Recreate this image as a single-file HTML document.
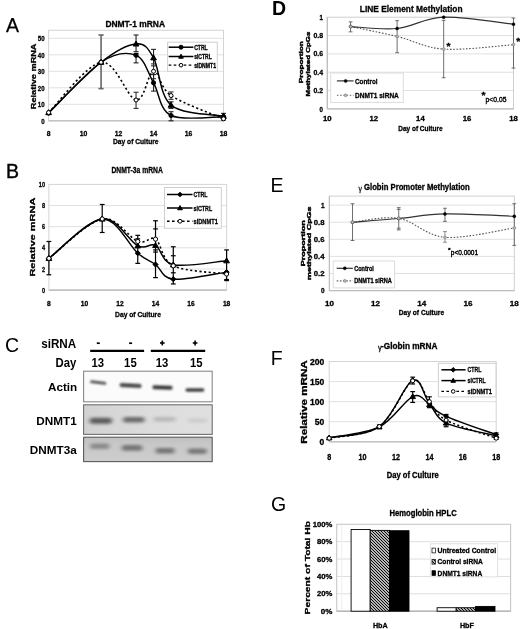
<!DOCTYPE html>
<html><head><meta charset="utf-8"><title>Figure</title>
<style>
html,body{margin:0;padding:0;background:#fff;}
body{width:520px;height:629px;overflow:hidden;}
svg{display:block;font-family:"Liberation Sans",sans-serif;filter:blur(0.3px);}
</style></head>
<body>
<svg width="520" height="629" viewBox="0 0 520 629">
<rect width="520" height="629" fill="#fff"/>
<text x="5.9" y="31.6" font-size="19.5" font-weight="normal" text-anchor="start" fill="#000" stroke="#000" stroke-width="0.25">A</text>
<text x="105.4" y="27.3" font-size="9.3" font-weight="bold" text-anchor="start" fill="#000" textLength="59.6" lengthAdjust="spacingAndGlyphs" stroke="#000" stroke-width="0.3">DNMT-1 mRNA</text>
<line x1="48.6" y1="104.3" x2="223.5" y2="104.3" stroke="#e0e0e0" stroke-width="1"/>
<line x1="48.6" y1="87.8" x2="223.5" y2="87.8" stroke="#e0e0e0" stroke-width="1"/>
<line x1="48.6" y1="71.3" x2="223.5" y2="71.3" stroke="#e0e0e0" stroke-width="1"/>
<line x1="48.6" y1="54.8" x2="223.5" y2="54.8" stroke="#e0e0e0" stroke-width="1"/>
<line x1="48.6" y1="38.3" x2="223.5" y2="38.3" stroke="#e0e0e0" stroke-width="1"/>
<rect x="48.6" y="30.3" width="174.9" height="90.5" fill="none" stroke="#d4d4d4" stroke-width="1"/>
<line x1="48.6" y1="120.8" x2="223.5" y2="120.8" stroke="#c4c4c4" stroke-width="1.6"/>
<text x="44.6" y="123.5" font-size="7.6" font-weight="bold" text-anchor="end" fill="#000" textLength="3.4" lengthAdjust="spacingAndGlyphs" stroke="#000" stroke-width="0.3">0</text>
<text x="44.6" y="107" font-size="7.6" font-weight="bold" text-anchor="end" fill="#000" textLength="6.8" lengthAdjust="spacingAndGlyphs" stroke="#000" stroke-width="0.3">10</text>
<text x="44.6" y="90.5" font-size="7.6" font-weight="bold" text-anchor="end" fill="#000" textLength="6.8" lengthAdjust="spacingAndGlyphs" stroke="#000" stroke-width="0.3">20</text>
<text x="44.6" y="74" font-size="7.6" font-weight="bold" text-anchor="end" fill="#000" textLength="6.8" lengthAdjust="spacingAndGlyphs" stroke="#000" stroke-width="0.3">30</text>
<text x="44.6" y="57.5" font-size="7.6" font-weight="bold" text-anchor="end" fill="#000" textLength="6.8" lengthAdjust="spacingAndGlyphs" stroke="#000" stroke-width="0.3">40</text>
<text x="44.6" y="41" font-size="7.6" font-weight="bold" text-anchor="end" fill="#000" textLength="6.8" lengthAdjust="spacingAndGlyphs" stroke="#000" stroke-width="0.3">50</text>
<text x="48.6" y="136.2" font-size="7.6" font-weight="bold" text-anchor="middle" fill="#000" textLength="3.8" lengthAdjust="spacingAndGlyphs" stroke="#000" stroke-width="0.3">8</text>
<text x="83.58" y="136.2" font-size="7.6" font-weight="bold" text-anchor="middle" fill="#000" textLength="7.6" lengthAdjust="spacingAndGlyphs" stroke="#000" stroke-width="0.3">10</text>
<text x="118.56" y="136.2" font-size="7.6" font-weight="bold" text-anchor="middle" fill="#000" textLength="7.6" lengthAdjust="spacingAndGlyphs" stroke="#000" stroke-width="0.3">12</text>
<text x="153.54" y="136.2" font-size="7.6" font-weight="bold" text-anchor="middle" fill="#000" textLength="7.6" lengthAdjust="spacingAndGlyphs" stroke="#000" stroke-width="0.3">14</text>
<text x="188.52" y="136.2" font-size="7.6" font-weight="bold" text-anchor="middle" fill="#000" textLength="7.6" lengthAdjust="spacingAndGlyphs" stroke="#000" stroke-width="0.3">16</text>
<text x="223.5" y="136.2" font-size="7.6" font-weight="bold" text-anchor="middle" fill="#000" textLength="7.6" lengthAdjust="spacingAndGlyphs" stroke="#000" stroke-width="0.3">18</text>
<text x="113" y="144.2" font-size="7.4" font-weight="bold" text-anchor="start" fill="#000" textLength="45.5" lengthAdjust="spacingAndGlyphs" stroke="#000" stroke-width="0.3">Day of Culture</text>
<text x="35.9" y="76.35" font-size="7.8" font-weight="bold" text-anchor="middle" fill="#000" textLength="65.7" lengthAdjust="spacingAndGlyphs" transform="rotate(-90 35.9 76.35)" stroke="#000" stroke-width="0.3">Relative mRNA</text>
<line x1="101.07" y1="35" x2="101.07" y2="88.62" stroke="#666" stroke-width="1.6"/>
<line x1="98.47" y1="35" x2="103.67" y2="35" stroke="#666" stroke-width="1.6"/>
<line x1="98.47" y1="88.62" x2="103.67" y2="88.62" stroke="#666" stroke-width="1.6"/>
<line x1="136.05" y1="35" x2="136.05" y2="51.67" stroke="#222" stroke-width="1.1"/>
<line x1="133.55" y1="35" x2="138.55" y2="35" stroke="#222" stroke-width="1.1"/>
<line x1="133.55" y1="51.67" x2="138.55" y2="51.67" stroke="#222" stroke-width="1.1"/>
<line x1="136.05" y1="53.48" x2="136.05" y2="62.88" stroke="#222" stroke-width="1.1"/>
<line x1="133.55" y1="53.48" x2="138.55" y2="53.48" stroke="#222" stroke-width="1.1"/>
<line x1="133.55" y1="62.88" x2="138.55" y2="62.88" stroke="#222" stroke-width="1.1"/>
<line x1="136.05" y1="92.25" x2="136.05" y2="108.42" stroke="#333" stroke-width="1.1"/>
<line x1="133.55" y1="92.25" x2="138.55" y2="92.25" stroke="#333" stroke-width="1.1"/>
<line x1="133.55" y1="108.42" x2="138.55" y2="108.42" stroke="#333" stroke-width="1.1"/>
<line x1="153.54" y1="49.36" x2="153.54" y2="65.86" stroke="#222" stroke-width="1.1"/>
<line x1="151.04" y1="49.36" x2="156.04" y2="49.36" stroke="#222" stroke-width="1.1"/>
<line x1="151.04" y1="65.86" x2="156.04" y2="65.86" stroke="#222" stroke-width="1.1"/>
<line x1="153.54" y1="63.88" x2="153.54" y2="78.72" stroke="#333" stroke-width="1.1"/>
<line x1="151.04" y1="63.88" x2="156.04" y2="63.88" stroke="#333" stroke-width="1.1"/>
<line x1="151.04" y1="78.72" x2="156.04" y2="78.72" stroke="#333" stroke-width="1.1"/>
<line x1="153.54" y1="74.6" x2="153.54" y2="91.1" stroke="#222" stroke-width="1.1"/>
<line x1="151.04" y1="74.6" x2="156.04" y2="74.6" stroke="#222" stroke-width="1.1"/>
<line x1="151.04" y1="91.1" x2="156.04" y2="91.1" stroke="#222" stroke-width="1.1"/>
<line x1="171.03" y1="91.92" x2="171.03" y2="99.35" stroke="#333" stroke-width="1.1"/>
<line x1="168.53" y1="91.92" x2="173.53" y2="91.92" stroke="#333" stroke-width="1.1"/>
<line x1="168.53" y1="99.35" x2="173.53" y2="99.35" stroke="#333" stroke-width="1.1"/>
<line x1="171.03" y1="101.83" x2="171.03" y2="108.42" stroke="#222" stroke-width="1.1"/>
<line x1="168.53" y1="101.83" x2="173.53" y2="101.83" stroke="#222" stroke-width="1.1"/>
<line x1="168.53" y1="108.42" x2="173.53" y2="108.42" stroke="#222" stroke-width="1.1"/>
<line x1="171.03" y1="111.72" x2="171.03" y2="120.8" stroke="#222" stroke-width="1.1"/>
<line x1="168.53" y1="111.72" x2="173.53" y2="111.72" stroke="#222" stroke-width="1.1"/>
<line x1="168.53" y1="120.8" x2="173.53" y2="120.8" stroke="#222" stroke-width="1.1"/>
<line x1="223.5" y1="113.38" x2="223.5" y2="119.97" stroke="#222" stroke-width="1.1"/>
<line x1="221" y1="113.38" x2="226" y2="113.38" stroke="#222" stroke-width="1.1"/>
<line x1="221" y1="119.97" x2="226" y2="119.97" stroke="#222" stroke-width="1.1"/>
<path d="M48.6,112.55 C57.34,104.16 86.5,64.31 101.07,62.23 C115.65,60.13 127.31,98.5 136.05,100.01 C144.8,101.52 147.71,72.04 153.54,71.3 C159.37,70.56 159.37,87.63 171.03,95.55 C182.69,103.47 214.75,114.94 223.5,118.82" fill="none" stroke="#000" stroke-width="1.6" stroke-dasharray="2.1,2.5"/>
<path d="M48.6,113.05 C57.34,104.58 86.5,71.85 101.07,62.23 C115.65,52.6 127.31,51.86 136.05,55.3 C144.8,58.73 147.71,72.81 153.54,82.85 C159.37,92.89 159.37,109.88 171.03,115.52 C182.69,121.16 214.75,116.48 223.5,116.67" fill="none" stroke="#000" stroke-width="1.45"/>
<path d="M48.6,112.55 C57.34,104.16 86.5,73.67 101.07,62.23 C115.65,50.79 127.31,44.65 136.05,43.91 C144.8,43.17 147.71,47.57 153.54,57.77 C159.37,67.97 159.37,95.39 171.03,105.12 C182.69,114.86 214.75,114.34 223.5,116.18" fill="none" stroke="#000" stroke-width="1.45"/>
<circle cx="48.6" cy="113.05" r="2.1" fill="#000" stroke="#000" stroke-width="1"/>
<circle cx="101.07" cy="62.23" r="2.1" fill="#000" stroke="#000" stroke-width="1"/>
<circle cx="136.05" cy="55.3" r="2.1" fill="#000" stroke="#000" stroke-width="1"/>
<circle cx="153.54" cy="82.85" r="2.1" fill="#000" stroke="#000" stroke-width="1"/>
<circle cx="171.03" cy="115.52" r="2.1" fill="#000" stroke="#000" stroke-width="1"/>
<circle cx="223.5" cy="116.67" r="2.1" fill="#000" stroke="#000" stroke-width="1"/>
<path d="M48.6,109.67 L51.48,114.67 L45.73,114.67Z" fill="#000" stroke="#000" stroke-width="1"/>
<path d="M101.07,59.35 L103.95,64.35 L98.2,64.35Z" fill="#000" stroke="#000" stroke-width="1"/>
<path d="M136.05,41.03 L138.93,46.03 L133.18,46.03Z" fill="#000" stroke="#000" stroke-width="1"/>
<path d="M153.54,54.89 L156.42,59.89 L150.67,59.89Z" fill="#000" stroke="#000" stroke-width="1"/>
<path d="M171.03,102.25 L173.91,107.25 L168.16,107.25Z" fill="#000" stroke="#000" stroke-width="1"/>
<path d="M223.5,113.3 L226.38,118.3 L220.62,118.3Z" fill="#000" stroke="#000" stroke-width="1"/>
<circle cx="48.6" cy="112.55" r="2" fill="#fff" stroke="#000" stroke-width="1"/>
<circle cx="101.07" cy="62.23" r="2" fill="#fff" stroke="#000" stroke-width="1"/>
<circle cx="136.05" cy="100.01" r="2" fill="#fff" stroke="#000" stroke-width="1"/>
<circle cx="153.54" cy="71.3" r="2" fill="#fff" stroke="#000" stroke-width="1"/>
<circle cx="171.03" cy="95.55" r="2" fill="#fff" stroke="#000" stroke-width="1"/>
<circle cx="223.5" cy="118.82" r="2" fill="#fff" stroke="#000" stroke-width="1"/>
<rect x="167.6" y="42.2" width="49.7" height="29.1" fill="#fff" stroke="#cfcfcf" stroke-width="1"/>
<line x1="168.7" y1="47.2" x2="193.4" y2="47.2" stroke="#000" stroke-width="1.5"/>
<circle cx="181" cy="47.2" r="2" fill="#000" stroke="#000" stroke-width="1"/>
<text x="194.2" y="49.5" font-size="6.4" font-weight="bold" text-anchor="start" fill="#000" textLength="13.5" lengthAdjust="spacingAndGlyphs" stroke="#000" stroke-width="0.3">CTRL</text>
<line x1="168.7" y1="56.5" x2="193.4" y2="56.5" stroke="#000" stroke-width="1.5"/>
<path d="M181,54.2 L183.3,58.2 L178.7,58.2Z" fill="#000" stroke="#000" stroke-width="1"/>
<text x="194.2" y="58.8" font-size="6.4" font-weight="bold" text-anchor="start" fill="#000" textLength="17.5" lengthAdjust="spacingAndGlyphs" stroke="#000" stroke-width="0.3">siCTRL</text>
<line x1="168.7" y1="65.2" x2="193.4" y2="65.2" stroke="#000" stroke-width="1.3" stroke-dasharray="2.6,2.4"/>
<circle cx="181" cy="65.2" r="1.8" fill="#fff" stroke="#000" stroke-width="1"/>
<text x="194.2" y="67.5" font-size="6.4" font-weight="bold" text-anchor="start" fill="#000" textLength="21.8" lengthAdjust="spacingAndGlyphs" stroke="#000" stroke-width="0.3">siDNMT1</text>
<text x="5.9" y="178.2" font-size="19.5" font-weight="normal" text-anchor="start" fill="#000" stroke="#000" stroke-width="0.4">B</text>
<text x="111.5" y="172.6" font-size="8.9" font-weight="bold" text-anchor="start" fill="#000" textLength="51.3" lengthAdjust="spacingAndGlyphs" stroke="#000" stroke-width="0.3">DNMT-3a mRNA</text>
<line x1="48.9" y1="268.96" x2="226.6" y2="268.96" stroke="#e0e0e0" stroke-width="1"/>
<line x1="48.9" y1="247.82" x2="226.6" y2="247.82" stroke="#e0e0e0" stroke-width="1"/>
<line x1="48.9" y1="226.68" x2="226.6" y2="226.68" stroke="#e0e0e0" stroke-width="1"/>
<line x1="48.9" y1="205.54" x2="226.6" y2="205.54" stroke="#e0e0e0" stroke-width="1"/>
<rect x="48.9" y="184.4" width="177.7" height="105.7" fill="none" stroke="#d4d4d4" stroke-width="1"/>
<line x1="48.9" y1="290.1" x2="226.6" y2="290.1" stroke="#c4c4c4" stroke-width="1.6"/>
<text x="45" y="292.7" font-size="7.4" font-weight="bold" text-anchor="end" fill="#000" textLength="3.1" lengthAdjust="spacingAndGlyphs" stroke="#000" stroke-width="0.3">0</text>
<text x="45" y="271.56" font-size="7.4" font-weight="bold" text-anchor="end" fill="#000" textLength="3.1" lengthAdjust="spacingAndGlyphs" stroke="#000" stroke-width="0.3">2</text>
<text x="45" y="250.42" font-size="7.4" font-weight="bold" text-anchor="end" fill="#000" textLength="3.1" lengthAdjust="spacingAndGlyphs" stroke="#000" stroke-width="0.3">4</text>
<text x="45" y="229.28" font-size="7.4" font-weight="bold" text-anchor="end" fill="#000" textLength="3.1" lengthAdjust="spacingAndGlyphs" stroke="#000" stroke-width="0.3">6</text>
<text x="45" y="208.14" font-size="7.4" font-weight="bold" text-anchor="end" fill="#000" textLength="3.1" lengthAdjust="spacingAndGlyphs" stroke="#000" stroke-width="0.3">8</text>
<text x="45" y="187" font-size="7.4" font-weight="bold" text-anchor="end" fill="#000" textLength="6.2" lengthAdjust="spacingAndGlyphs" stroke="#000" stroke-width="0.3">10</text>
<text x="48.9" y="306" font-size="7.4" font-weight="bold" text-anchor="middle" fill="#000" textLength="3.7" lengthAdjust="spacingAndGlyphs" stroke="#000" stroke-width="0.3">8</text>
<text x="84.44" y="306" font-size="7.4" font-weight="bold" text-anchor="middle" fill="#000" textLength="7.4" lengthAdjust="spacingAndGlyphs" stroke="#000" stroke-width="0.3">10</text>
<text x="119.98" y="306" font-size="7.4" font-weight="bold" text-anchor="middle" fill="#000" textLength="7.4" lengthAdjust="spacingAndGlyphs" stroke="#000" stroke-width="0.3">12</text>
<text x="155.52" y="306" font-size="7.4" font-weight="bold" text-anchor="middle" fill="#000" textLength="7.4" lengthAdjust="spacingAndGlyphs" stroke="#000" stroke-width="0.3">14</text>
<text x="191.06" y="306" font-size="7.4" font-weight="bold" text-anchor="middle" fill="#000" textLength="7.4" lengthAdjust="spacingAndGlyphs" stroke="#000" stroke-width="0.3">16</text>
<text x="226.6" y="306" font-size="7.4" font-weight="bold" text-anchor="middle" fill="#000" textLength="7.4" lengthAdjust="spacingAndGlyphs" stroke="#000" stroke-width="0.3">18</text>
<text x="115.1" y="317.1" font-size="7.6" font-weight="bold" text-anchor="start" fill="#000" textLength="45.8" lengthAdjust="spacingAndGlyphs" stroke="#000" stroke-width="0.3">Day of Culture</text>
<text x="35.5" y="237.1" font-size="8" font-weight="bold" text-anchor="middle" fill="#000" textLength="79" lengthAdjust="spacingAndGlyphs" transform="rotate(-90 35.5 237.1)" stroke="#000" stroke-width="0.3">Relative mRNA</text>
<line x1="48.9" y1="241.48" x2="48.9" y2="274.77" stroke="#000" stroke-width="1.2"/>
<line x1="46.5" y1="241.48" x2="51.3" y2="241.48" stroke="#000" stroke-width="1.2"/>
<line x1="46.5" y1="274.77" x2="51.3" y2="274.77" stroke="#000" stroke-width="1.2"/>
<line x1="102.21" y1="204.48" x2="102.21" y2="232.49" stroke="#000" stroke-width="1.2"/>
<line x1="99.81" y1="204.48" x2="104.61" y2="204.48" stroke="#000" stroke-width="1.2"/>
<line x1="99.81" y1="232.49" x2="104.61" y2="232.49" stroke="#000" stroke-width="1.2"/>
<line x1="137.75" y1="235.35" x2="137.75" y2="263.36" stroke="#000" stroke-width="1.2"/>
<line x1="135.35" y1="235.35" x2="140.15" y2="235.35" stroke="#000" stroke-width="1.2"/>
<line x1="135.35" y1="238.84" x2="140.15" y2="238.84" stroke="#000" stroke-width="1.2"/>
<line x1="135.35" y1="263.36" x2="140.15" y2="263.36" stroke="#000" stroke-width="1.2"/>
<line x1="155.52" y1="220.76" x2="155.52" y2="277.63" stroke="#000" stroke-width="1.2"/>
<line x1="153.12" y1="220.76" x2="157.92" y2="220.76" stroke="#000" stroke-width="1.2"/>
<line x1="153.12" y1="228.9" x2="157.92" y2="228.9" stroke="#000" stroke-width="1.2"/>
<line x1="153.12" y1="249.93" x2="157.92" y2="249.93" stroke="#000" stroke-width="1.2"/>
<line x1="153.12" y1="252.05" x2="157.92" y2="252.05" stroke="#000" stroke-width="1.2"/>
<line x1="153.12" y1="277.63" x2="157.92" y2="277.63" stroke="#000" stroke-width="1.2"/>
<line x1="173.29" y1="246.76" x2="173.29" y2="283.97" stroke="#000" stroke-width="1.2"/>
<line x1="170.89" y1="246.76" x2="175.69" y2="246.76" stroke="#000" stroke-width="1.2"/>
<line x1="170.89" y1="255.75" x2="175.69" y2="255.75" stroke="#000" stroke-width="1.2"/>
<line x1="170.89" y1="272.77" x2="175.69" y2="272.77" stroke="#000" stroke-width="1.2"/>
<line x1="170.89" y1="283.97" x2="175.69" y2="283.97" stroke="#000" stroke-width="1.2"/>
<line x1="226.6" y1="249.93" x2="226.6" y2="280.59" stroke="#000" stroke-width="1.2"/>
<line x1="224.2" y1="249.93" x2="229" y2="249.93" stroke="#000" stroke-width="1.2"/>
<line x1="224.2" y1="279.53" x2="229" y2="279.53" stroke="#000" stroke-width="1.2"/>
<line x1="224.2" y1="280.59" x2="229" y2="280.59" stroke="#000" stroke-width="1.2"/>
<path d="M48.9,258.39 C57.78,251.82 87.4,221.78 102.21,218.96 C117.02,216.15 128.87,238.11 137.75,241.48 C146.63,244.84 149.6,235.1 155.52,239.15 C161.44,243.2 161.44,259.98 173.29,265.79 C185.14,271.6 217.72,272.66 226.6,274.03" fill="none" stroke="#000" stroke-width="1.6" stroke-dasharray="2.1,2.5"/>
<path d="M48.9,258.39 C57.78,251.82 87.4,219.83 102.21,218.96 C117.02,218.1 128.87,245.62 137.75,253.21 C146.63,260.8 149.6,260.19 155.52,264.52 C161.44,268.85 161.44,277.94 173.29,279.21 C185.14,280.48 217.72,273.31 226.6,272.13" fill="none" stroke="#000" stroke-width="1.45"/>
<path d="M48.9,258.39 C57.78,251.82 87.4,221.06 102.21,218.96 C117.02,216.87 128.87,241.41 137.75,245.81 C146.63,250.22 149.6,242.24 155.52,245.39 C161.44,248.54 161.44,262.18 173.29,264.73 C185.14,267.29 217.72,261.38 226.6,260.72" fill="none" stroke="#000" stroke-width="1.45"/>
<path d="M48.9,255.79 L51.5,258.39 L48.9,260.99 L46.3,258.39Z" fill="#000" stroke="#000" stroke-width="1"/>
<path d="M102.21,216.36 L104.81,218.96 L102.21,221.56 L99.61,218.96Z" fill="#000" stroke="#000" stroke-width="1"/>
<path d="M137.75,250.61 L140.35,253.21 L137.75,255.81 L135.15,253.21Z" fill="#000" stroke="#000" stroke-width="1"/>
<path d="M155.52,261.92 L158.12,264.52 L155.52,267.12 L152.92,264.52Z" fill="#000" stroke="#000" stroke-width="1"/>
<path d="M173.29,276.61 L175.89,279.21 L173.29,281.81 L170.69,279.21Z" fill="#000" stroke="#000" stroke-width="1"/>
<path d="M226.6,269.53 L229.2,272.13 L226.6,274.73 L224,272.13Z" fill="#000" stroke="#000" stroke-width="1"/>
<path d="M48.9,255.52 L51.77,260.52 L46.02,260.52Z" fill="#000" stroke="#000" stroke-width="1"/>
<path d="M102.21,216.09 L105.08,221.09 L99.33,221.09Z" fill="#000" stroke="#000" stroke-width="1"/>
<path d="M137.75,242.94 L140.62,247.94 L134.88,247.94Z" fill="#000" stroke="#000" stroke-width="1"/>
<path d="M155.52,242.51 L158.39,247.51 L152.64,247.51Z" fill="#000" stroke="#000" stroke-width="1"/>
<path d="M173.29,261.86 L176.16,266.86 L170.41,266.86Z" fill="#000" stroke="#000" stroke-width="1"/>
<path d="M226.6,257.84 L229.47,262.84 L223.72,262.84Z" fill="#000" stroke="#000" stroke-width="1"/>
<circle cx="48.9" cy="258.39" r="2.1" fill="#fff" stroke="#000" stroke-width="1"/>
<circle cx="102.21" cy="218.96" r="2.1" fill="#fff" stroke="#000" stroke-width="1"/>
<circle cx="137.75" cy="241.48" r="2.1" fill="#fff" stroke="#000" stroke-width="1"/>
<circle cx="155.52" cy="239.15" r="2.1" fill="#fff" stroke="#000" stroke-width="1"/>
<circle cx="173.29" cy="265.79" r="2.1" fill="#fff" stroke="#000" stroke-width="1"/>
<circle cx="226.6" cy="274.03" r="2.1" fill="#fff" stroke="#000" stroke-width="1"/>
<rect x="164.5" y="187.5" width="56.8" height="40.8" fill="#fff" stroke="#cfcfcf" stroke-width="1"/>
<line x1="167" y1="194.5" x2="192.5" y2="194.5" stroke="#000" stroke-width="1.5"/>
<path d="M180,192.2 L182.3,194.5 L180,196.8 L177.7,194.5Z" fill="#000" stroke="#000" stroke-width="1"/>
<text x="193.5" y="197.4" font-size="7.6" font-weight="bold" text-anchor="start" fill="#000" textLength="14" lengthAdjust="spacingAndGlyphs" stroke="#000" stroke-width="0.3">CTRL</text>
<line x1="167" y1="208" x2="192.5" y2="208" stroke="#000" stroke-width="1.5"/>
<path d="M180,205.59 L182.41,209.78 L177.59,209.78Z" fill="#000" stroke="#000" stroke-width="1"/>
<text x="193.5" y="210.9" font-size="7.6" font-weight="bold" text-anchor="start" fill="#000" textLength="18.7" lengthAdjust="spacingAndGlyphs" stroke="#000" stroke-width="0.3">siCTRL</text>
<line x1="167" y1="221.25" x2="192.5" y2="221.25" stroke="#000" stroke-width="1.3" stroke-dasharray="2.6,2.4"/>
<circle cx="180" cy="221.25" r="1.9" fill="#fff" stroke="#000" stroke-width="1"/>
<text x="193.5" y="224.15" font-size="7.6" font-weight="bold" text-anchor="start" fill="#000" textLength="24.4" lengthAdjust="spacingAndGlyphs" stroke="#000" stroke-width="0.3">siDNMT1</text>
<text x="5" y="352.2" font-size="19.5" font-weight="normal" text-anchor="start" fill="#000">C</text>
<text x="41.2" y="347.5" font-size="12" font-weight="bold" text-anchor="start" fill="#000" textLength="35" lengthAdjust="spacingAndGlyphs">siRNA</text>
<text x="55.5" y="366.8" font-size="12" font-weight="bold" text-anchor="start" fill="#000" textLength="20.8" lengthAdjust="spacingAndGlyphs">Day</text>
<line x1="96.8" y1="343.2" x2="99.8" y2="343.2" stroke="#000" stroke-width="1.7"/>
<line x1="129.1" y1="343.2" x2="132.1" y2="343.2" stroke="#000" stroke-width="1.7"/>
<line x1="160" y1="343" x2="164.6" y2="343" stroke="#000" stroke-width="1.6"/>
<line x1="162.3" y1="340.6" x2="162.3" y2="345.4" stroke="#000" stroke-width="1.6"/>
<line x1="192.8" y1="343" x2="197.4" y2="343" stroke="#000" stroke-width="1.6"/>
<line x1="195.1" y1="340.6" x2="195.1" y2="345.4" stroke="#000" stroke-width="1.6"/>
<line x1="90.2" y1="350.9" x2="144.1" y2="350.9" stroke="#000" stroke-width="2.4"/>
<line x1="150.8" y1="350.9" x2="205.2" y2="350.9" stroke="#000" stroke-width="2.4"/>
<text x="97.7" y="366.9" font-size="12" font-weight="bold" text-anchor="middle" fill="#000" textLength="12.6" lengthAdjust="spacingAndGlyphs">13</text>
<text x="130.4" y="366.9" font-size="12" font-weight="bold" text-anchor="middle" fill="#000" textLength="12.6" lengthAdjust="spacingAndGlyphs">15</text>
<text x="162.1" y="366.9" font-size="12" font-weight="bold" text-anchor="middle" fill="#000" textLength="12.6" lengthAdjust="spacingAndGlyphs">13</text>
<text x="196.3" y="366.9" font-size="12" font-weight="bold" text-anchor="middle" fill="#000" textLength="12.6" lengthAdjust="spacingAndGlyphs">15</text>
<text x="77.2" y="391.2" font-size="11.6" font-weight="bold" text-anchor="end" fill="#000" textLength="29.2" lengthAdjust="spacingAndGlyphs">Actin</text>
<text x="76.7" y="424.7" font-size="11.6" font-weight="bold" text-anchor="end" fill="#000" textLength="40.4" lengthAdjust="spacingAndGlyphs">DNMT1</text>
<text x="76.7" y="453.5" font-size="11.6" font-weight="bold" text-anchor="end" fill="#000" textLength="46.9" lengthAdjust="spacingAndGlyphs">DNMT3a</text>
<defs><filter id="bl" x="-30%" y="-100%" width="160%" height="300%"><feGaussianBlur stdDeviation="1.3 1.1"/></filter><filter id="bl2" x="-30%" y="-100%" width="160%" height="300%"><feGaussianBlur stdDeviation="2.0 1.7"/></filter><linearGradient id="g2" x1="0" y1="0" x2="1" y2="0"><stop offset="0" stop-color="#d2d2d2"/><stop offset="0.5" stop-color="#dcdcdc"/><stop offset="1" stop-color="#e0e0e0"/></linearGradient><linearGradient id="g3" x1="0" y1="0" x2="0" y2="1"><stop offset="0" stop-color="#c0c0c0"/><stop offset="0.35" stop-color="#c9c9c9"/><stop offset="1" stop-color="#cdcdcd"/></linearGradient></defs>
<rect x="83.6" y="371.2" width="128.6" height="30.6" fill="#fbfbfb" stroke="#8a8a8a" stroke-width="1.1"/>
<rect x="83.6" y="404.8" width="128.6" height="29.6" fill="url(#g2)" stroke="#6f6f6f" stroke-width="1.1"/>
<rect x="83.6" y="437.2" width="128.6" height="24.4" fill="url(#g3)" stroke="#5a5a5a" stroke-width="1.1"/>
<rect x="90" y="381.1" width="16.4" height="3" rx="1.5" fill="#333" opacity="0.8" filter="url(#bl)" transform="rotate(7 98.2 382.6)"/>
<rect x="119.6" y="383.6" width="22" height="4" rx="2" fill="#222" opacity="0.85" filter="url(#bl)" transform="rotate(3 130.6 385.6)"/>
<rect x="152.4" y="385.6" width="20.2" height="4" rx="2" fill="#1e1e1e" opacity="0.88" filter="url(#bl)" transform="rotate(2 162.5 387.6)"/>
<rect x="185.4" y="388.2" width="19" height="3.6" rx="1.8" fill="#222" opacity="0.85" filter="url(#bl)"/>
<rect x="89.6" y="417.8" width="22.4" height="6" rx="3" fill="#3a3a3a" opacity="0.78" filter="url(#bl2)"/>
<rect x="123" y="417" width="21.6" height="5.6" rx="2.8" fill="#404040" opacity="0.72" filter="url(#bl2)"/>
<rect x="153.5" y="417" width="22" height="4.4" rx="2.2" fill="#8a8a8a" opacity="0.45" filter="url(#bl2)"/>
<rect x="188" y="418.4" width="19" height="4" rx="2" fill="#9a9a9a" opacity="0.3" filter="url(#bl2)"/>
<rect x="90" y="443.6" width="19.6" height="5.4" rx="2.7" fill="#606060" opacity="0.6" filter="url(#bl2)"/>
<rect x="121.7" y="445" width="20.7" height="5.8" rx="2.9" fill="#4a4a4a" opacity="0.66" filter="url(#bl2)"/>
<rect x="155.6" y="448" width="19" height="5.6" rx="2.8" fill="#4a4a4a" opacity="0.66" filter="url(#bl2)"/>
<rect x="187.8" y="448.6" width="19" height="5.4" rx="2.7" fill="#4a4a4a" opacity="0.64" filter="url(#bl2)"/>
<text x="271.9" y="15.1" font-size="19.5" font-weight="bold" text-anchor="start" fill="#000">D</text>
<text x="359.8" y="12.3" font-size="9.4" font-weight="bold" text-anchor="start" fill="#000" textLength="102.7" lengthAdjust="spacingAndGlyphs" stroke="#000" stroke-width="0.3">LINE Element Methylation</text>
<line x1="327.3" y1="90.56" x2="513.5" y2="90.56" stroke="#e0e0e0" stroke-width="1"/>
<line x1="327.3" y1="72.22" x2="513.5" y2="72.22" stroke="#e0e0e0" stroke-width="1"/>
<line x1="327.3" y1="53.88" x2="513.5" y2="53.88" stroke="#e0e0e0" stroke-width="1"/>
<line x1="327.3" y1="35.54" x2="513.5" y2="35.54" stroke="#e0e0e0" stroke-width="1"/>
<rect x="327.3" y="17.2" width="186.2" height="91.7" fill="none" stroke="#cfcfcf" stroke-width="1"/>
<line x1="327.3" y1="108.9" x2="513.5" y2="108.9" stroke="#bdbdbd" stroke-width="1.4"/>
<line x1="327.3" y1="17.2" x2="327.3" y2="108.9" stroke="#bdbdbd" stroke-width="1.2"/>
<text x="323" y="111.5" font-size="7.4" font-weight="bold" text-anchor="end" fill="#000" textLength="3.4" lengthAdjust="spacingAndGlyphs" stroke="#000" stroke-width="0.3">0</text>
<text x="323" y="93.16" font-size="7.4" font-weight="bold" text-anchor="end" fill="#000" textLength="9.6" lengthAdjust="spacingAndGlyphs" stroke="#000" stroke-width="0.3">0.2</text>
<text x="323" y="74.82" font-size="7.4" font-weight="bold" text-anchor="end" fill="#000" textLength="9.6" lengthAdjust="spacingAndGlyphs" stroke="#000" stroke-width="0.3">0.4</text>
<text x="323" y="56.48" font-size="7.4" font-weight="bold" text-anchor="end" fill="#000" textLength="9.6" lengthAdjust="spacingAndGlyphs" stroke="#000" stroke-width="0.3">0.6</text>
<text x="323" y="38.14" font-size="7.4" font-weight="bold" text-anchor="end" fill="#000" textLength="9.6" lengthAdjust="spacingAndGlyphs" stroke="#000" stroke-width="0.3">0.8</text>
<text x="323" y="19.8" font-size="7.4" font-weight="bold" text-anchor="end" fill="#000" textLength="3.4" lengthAdjust="spacingAndGlyphs" stroke="#000" stroke-width="0.3">1</text>
<text x="327.3" y="121.2" font-size="7.4" font-weight="bold" text-anchor="middle" fill="#000" textLength="8.6" lengthAdjust="spacingAndGlyphs" stroke="#000" stroke-width="0.3">10</text>
<text x="373.85" y="121.2" font-size="7.4" font-weight="bold" text-anchor="middle" fill="#000" textLength="8.6" lengthAdjust="spacingAndGlyphs" stroke="#000" stroke-width="0.3">12</text>
<text x="420.4" y="121.2" font-size="7.4" font-weight="bold" text-anchor="middle" fill="#000" textLength="8.6" lengthAdjust="spacingAndGlyphs" stroke="#000" stroke-width="0.3">14</text>
<text x="466.95" y="121.2" font-size="7.4" font-weight="bold" text-anchor="middle" fill="#000" textLength="8.6" lengthAdjust="spacingAndGlyphs" stroke="#000" stroke-width="0.3">16</text>
<text x="513.5" y="121.2" font-size="7.4" font-weight="bold" text-anchor="middle" fill="#000" textLength="8.6" lengthAdjust="spacingAndGlyphs" stroke="#000" stroke-width="0.3">18</text>
<text x="398.3" y="131.3" font-size="7.2" font-weight="bold" text-anchor="start" fill="#000" textLength="44.2" lengthAdjust="spacingAndGlyphs" stroke="#000" stroke-width="0.3">Day of Culture</text>
<text x="303" y="62.2" font-size="6" font-weight="bold" text-anchor="middle" fill="#000" textLength="42.2" lengthAdjust="spacingAndGlyphs" transform="rotate(-90 303 62.2)" stroke="#000" stroke-width="0.4">Proportion</text>
<text x="309.6" y="64" font-size="6" font-weight="bold" text-anchor="middle" fill="#000" textLength="64.9" lengthAdjust="spacingAndGlyphs" transform="rotate(-90 309.6 64)" stroke="#000" stroke-width="0.4">Methylated CpGs</text>
<line x1="350.57" y1="21.88" x2="350.57" y2="31.87" stroke="#555" stroke-width="0.85"/>
<line x1="348.68" y1="21.88" x2="352.47" y2="21.88" stroke="#555" stroke-width="0.85"/>
<line x1="348.68" y1="31.87" x2="352.47" y2="31.87" stroke="#555" stroke-width="0.85"/>
<line x1="397.12" y1="20.68" x2="397.12" y2="52.69" stroke="#555" stroke-width="0.85"/>
<line x1="395.23" y1="20.68" x2="399.02" y2="20.68" stroke="#555" stroke-width="0.85"/>
<line x1="395.23" y1="52.69" x2="399.02" y2="52.69" stroke="#555" stroke-width="0.85"/>
<line x1="443.68" y1="20.32" x2="443.68" y2="77.72" stroke="#555" stroke-width="0.85"/>
<line x1="441.78" y1="20.32" x2="445.57" y2="20.32" stroke="#555" stroke-width="0.85"/>
<line x1="441.78" y1="77.72" x2="445.57" y2="77.72" stroke="#555" stroke-width="0.85"/>
<line x1="513.5" y1="18.12" x2="513.5" y2="68.09" stroke="#555" stroke-width="0.85"/>
<line x1="511.6" y1="18.12" x2="515.4" y2="18.12" stroke="#555" stroke-width="0.85"/>
<line x1="511.6" y1="68.09" x2="515.4" y2="68.09" stroke="#555" stroke-width="0.85"/>
<path d="M350.57,26.55 C358.33,28.2 381.61,32.7 397.12,36.46 C412.64,40.22 424.28,47.74 443.68,49.11 C463.07,50.49 501.86,45.44 513.5,44.71" fill="none" stroke="#555" stroke-width="1.1" stroke-dasharray="1.6,1.6"/>
<path d="M350.57,26.55 C358.33,26.87 381.61,30.04 397.12,28.48 C412.64,26.92 424.28,17.92 443.68,17.2 C463.07,16.48 501.86,23.01 513.5,24.17" fill="none" stroke="#333" stroke-width="1.2"/>
<circle cx="350.57" cy="26.55" r="1.5" fill="#000" stroke="#000" stroke-width="0.5"/>
<circle cx="397.12" cy="28.48" r="1.5" fill="#000" stroke="#000" stroke-width="0.5"/>
<circle cx="443.68" cy="17.2" r="1.5" fill="#000" stroke="#000" stroke-width="0.5"/>
<circle cx="513.5" cy="24.17" r="1.5" fill="#000" stroke="#000" stroke-width="0.5"/>
<circle cx="350.57" cy="26.55" r="1.4" fill="#bbb" stroke="#888" stroke-width="0.8"/>
<circle cx="397.12" cy="36.46" r="1.4" fill="#bbb" stroke="#888" stroke-width="0.8"/>
<circle cx="443.68" cy="49.11" r="1.4" fill="#bbb" stroke="#888" stroke-width="0.8"/>
<circle cx="513.5" cy="44.71" r="1.4" fill="#bbb" stroke="#888" stroke-width="0.8"/>
<text x="446.4" y="48.6" font-size="9" font-weight="bold" text-anchor="start" fill="#000" textLength="4" lengthAdjust="spacingAndGlyphs" stroke="#000" stroke-width="0.3">*</text>
<text x="516.2" y="44.2" font-size="9" font-weight="bold" text-anchor="start" fill="#000" textLength="4" lengthAdjust="spacingAndGlyphs" stroke="#000" stroke-width="0.3">*</text>
<text x="481.4" y="97.6" font-size="9" font-weight="bold" text-anchor="start" fill="#000" textLength="4" lengthAdjust="spacingAndGlyphs" stroke="#000" stroke-width="0.3">*</text>
<text x="485.6" y="102.4" font-size="7.8" font-weight="normal" text-anchor="start" fill="#000" textLength="20.8" lengthAdjust="spacingAndGlyphs" stroke="#000" stroke-width="0.4">p&lt;0.05</text>
<rect x="330.7" y="73" width="72.6" height="29.4" fill="#fff" stroke="#dcdcdc" stroke-width="1"/>
<line x1="336.9" y1="80.9" x2="353.6" y2="80.9" stroke="#333" stroke-width="1.2"/>
<circle cx="345.6" cy="80.9" r="1.5" fill="#000" stroke="#000" stroke-width="0.5"/>
<line x1="336.9" y1="95.3" x2="353.6" y2="95.3" stroke="#666" stroke-width="1.1" stroke-dasharray="1.6,1.6"/>
<circle cx="345.6" cy="95.3" r="1.4" fill="#bbb" stroke="#888" stroke-width="0.8"/>
<text x="355" y="83.6" font-size="7.8" font-weight="bold" text-anchor="start" fill="#000" textLength="22.6" lengthAdjust="spacingAndGlyphs" stroke="#000" stroke-width="0.3">Control</text>
<text x="355" y="98.1" font-size="7.8" font-weight="bold" text-anchor="start" fill="#000" textLength="43.8" lengthAdjust="spacingAndGlyphs" stroke="#000" stroke-width="0.3">DNMT1 siRNA</text>
<text x="270.6" y="192.4" font-size="19.5" font-weight="normal" text-anchor="start" fill="#000">E</text>
<text x="358.6" y="190.6" font-size="7" font-weight="normal" text-anchor="start" fill="#222" stroke="#222" stroke-width="0.3">γ</text>
<text x="364" y="190.4" font-size="8.2" font-weight="bold" text-anchor="start" fill="#000" textLength="105.7" lengthAdjust="spacingAndGlyphs" stroke="#000" stroke-width="0.3">Globin Promoter Methylation</text>
<line x1="329.4" y1="273.5" x2="514.3" y2="273.5" stroke="#e0e0e0" stroke-width="1"/>
<line x1="329.4" y1="256.4" x2="514.3" y2="256.4" stroke="#e0e0e0" stroke-width="1"/>
<line x1="329.4" y1="239.3" x2="514.3" y2="239.3" stroke="#e0e0e0" stroke-width="1"/>
<line x1="329.4" y1="222.2" x2="514.3" y2="222.2" stroke="#e0e0e0" stroke-width="1"/>
<line x1="329.4" y1="205.1" x2="514.3" y2="205.1" stroke="#e0e0e0" stroke-width="1"/>
<rect x="329.4" y="196.1" width="184.9" height="94.5" fill="none" stroke="#cfcfcf" stroke-width="1"/>
<line x1="329.4" y1="290.6" x2="514.3" y2="290.6" stroke="#bdbdbd" stroke-width="1.4"/>
<line x1="329.4" y1="196.1" x2="329.4" y2="290.6" stroke="#bdbdbd" stroke-width="1.2"/>
<text x="324.6" y="293.3" font-size="7.6" font-weight="bold" text-anchor="end" fill="#000" textLength="3.6" lengthAdjust="spacingAndGlyphs" stroke="#000" stroke-width="0.3">0</text>
<text x="324.6" y="276.2" font-size="7.6" font-weight="bold" text-anchor="end" fill="#000" textLength="10.8" lengthAdjust="spacingAndGlyphs" stroke="#000" stroke-width="0.3">0.2</text>
<text x="324.6" y="259.1" font-size="7.6" font-weight="bold" text-anchor="end" fill="#000" textLength="10.8" lengthAdjust="spacingAndGlyphs" stroke="#000" stroke-width="0.3">0.4</text>
<text x="324.6" y="242" font-size="7.6" font-weight="bold" text-anchor="end" fill="#000" textLength="10.8" lengthAdjust="spacingAndGlyphs" stroke="#000" stroke-width="0.3">0.6</text>
<text x="324.6" y="224.9" font-size="7.6" font-weight="bold" text-anchor="end" fill="#000" textLength="10.8" lengthAdjust="spacingAndGlyphs" stroke="#000" stroke-width="0.3">0.8</text>
<text x="324.6" y="207.8" font-size="7.6" font-weight="bold" text-anchor="end" fill="#000" textLength="3.6" lengthAdjust="spacingAndGlyphs" stroke="#000" stroke-width="0.3">1</text>
<text x="329.4" y="306" font-size="7.6" font-weight="bold" text-anchor="middle" fill="#000" textLength="9" lengthAdjust="spacingAndGlyphs" stroke="#000" stroke-width="0.3">10</text>
<text x="375.62" y="306" font-size="7.6" font-weight="bold" text-anchor="middle" fill="#000" textLength="9" lengthAdjust="spacingAndGlyphs" stroke="#000" stroke-width="0.3">12</text>
<text x="421.85" y="306" font-size="7.6" font-weight="bold" text-anchor="middle" fill="#000" textLength="9" lengthAdjust="spacingAndGlyphs" stroke="#000" stroke-width="0.3">14</text>
<text x="468.07" y="306" font-size="7.6" font-weight="bold" text-anchor="middle" fill="#000" textLength="9" lengthAdjust="spacingAndGlyphs" stroke="#000" stroke-width="0.3">16</text>
<text x="514.3" y="306" font-size="7.6" font-weight="bold" text-anchor="middle" fill="#000" textLength="9" lengthAdjust="spacingAndGlyphs" stroke="#000" stroke-width="0.3">18</text>
<text x="398.8" y="315.2" font-size="7.4" font-weight="bold" text-anchor="start" fill="#000" textLength="45.3" lengthAdjust="spacingAndGlyphs" stroke="#000" stroke-width="0.3">Day of Culture</text>
<text x="304.7" y="243.2" font-size="6" font-weight="bold" text-anchor="middle" fill="#000" textLength="46" lengthAdjust="spacingAndGlyphs" transform="rotate(-90 304.7 243.2)" stroke="#000" stroke-width="0.4">Proportion</text>
<text x="311.5" y="243.2" font-size="6" font-weight="bold" text-anchor="middle" fill="#000" textLength="73.6" lengthAdjust="spacingAndGlyphs" transform="rotate(-90 311.5 243.2)" stroke="#000" stroke-width="0.4">methylated CpGs</text>
<line x1="352.51" y1="203.73" x2="352.51" y2="240.5" stroke="#555" stroke-width="0.85"/>
<line x1="350.61" y1="203.73" x2="354.41" y2="203.73" stroke="#555" stroke-width="0.85"/>
<line x1="350.61" y1="240.5" x2="354.41" y2="240.5" stroke="#555" stroke-width="0.85"/>
<line x1="398.74" y1="207.67" x2="398.74" y2="229.9" stroke="#555" stroke-width="0.85"/>
<line x1="396.84" y1="207.67" x2="400.64" y2="207.67" stroke="#555" stroke-width="0.85"/>
<line x1="396.84" y1="209.38" x2="400.64" y2="209.38" stroke="#555" stroke-width="0.85"/>
<line x1="396.84" y1="228.19" x2="400.64" y2="228.19" stroke="#555" stroke-width="0.85"/>
<line x1="396.84" y1="229.9" x2="400.64" y2="229.9" stroke="#555" stroke-width="0.85"/>
<line x1="444.96" y1="208.26" x2="444.96" y2="221.35" stroke="#555" stroke-width="0.85"/>
<line x1="443.06" y1="208.26" x2="446.86" y2="208.26" stroke="#555" stroke-width="0.85"/>
<line x1="443.06" y1="221.35" x2="446.86" y2="221.35" stroke="#555" stroke-width="0.85"/>
<line x1="444.96" y1="231.61" x2="444.96" y2="242.21" stroke="#777" stroke-width="0.85"/>
<line x1="443.06" y1="231.61" x2="446.86" y2="231.61" stroke="#777" stroke-width="0.85"/>
<line x1="443.06" y1="242.21" x2="446.86" y2="242.21" stroke="#777" stroke-width="0.85"/>
<line x1="514.3" y1="203.73" x2="514.3" y2="245.37" stroke="#555" stroke-width="0.85"/>
<line x1="512.4" y1="203.73" x2="516.2" y2="203.73" stroke="#555" stroke-width="0.85"/>
<line x1="512.4" y1="245.37" x2="516.2" y2="245.37" stroke="#555" stroke-width="0.85"/>
<path d="M352.51,222.2 C360.22,221.56 383.33,215.83 398.74,218.35 C414.15,220.87 425.7,235.74 444.96,237.33 C464.22,238.93 502.74,229.5 514.3,227.93" fill="none" stroke="#555" stroke-width="1.1" stroke-dasharray="1.6,1.6"/>
<path d="M352.51,222.2 C360.22,221.59 383.33,219.91 398.74,218.52 C414.15,217.14 425.7,214.28 444.96,213.91 C464.22,213.54 502.74,215.9 514.3,216.3" fill="none" stroke="#333" stroke-width="1.2"/>
<circle cx="352.51" cy="222.2" r="1.5" fill="#000" stroke="#000" stroke-width="0.5"/>
<circle cx="398.74" cy="218.52" r="1.5" fill="#000" stroke="#000" stroke-width="0.5"/>
<circle cx="444.96" cy="213.91" r="1.5" fill="#000" stroke="#000" stroke-width="0.5"/>
<circle cx="514.3" cy="216.3" r="1.5" fill="#000" stroke="#000" stroke-width="0.5"/>
<circle cx="352.51" cy="222.2" r="1.4" fill="#bbb" stroke="#888" stroke-width="0.8"/>
<circle cx="398.74" cy="218.35" r="1.4" fill="#bbb" stroke="#888" stroke-width="0.8"/>
<circle cx="444.96" cy="237.33" r="1.4" fill="#bbb" stroke="#888" stroke-width="0.8"/>
<circle cx="514.3" cy="227.93" r="1.4" fill="#bbb" stroke="#888" stroke-width="0.8"/>
<text x="447.9" y="251.6" font-size="6" font-weight="bold" text-anchor="start" fill="#000" textLength="2.6" lengthAdjust="spacingAndGlyphs" stroke="#000" stroke-width="0.3">*</text>
<text x="450.8" y="254.5" font-size="8" font-weight="normal" text-anchor="start" fill="#000" textLength="27.3" lengthAdjust="spacingAndGlyphs" stroke="#000" stroke-width="0.45">p&lt;0.0001</text>
<rect x="333.2" y="261" width="61.4" height="26.9" fill="#fff" stroke="#dcdcdc" stroke-width="1"/>
<line x1="336.7" y1="268.3" x2="352.9" y2="268.3" stroke="#333" stroke-width="1.2"/>
<circle cx="344.8" cy="268.3" r="1.5" fill="#000" stroke="#000" stroke-width="0.5"/>
<line x1="336.7" y1="280.9" x2="352.9" y2="280.9" stroke="#666" stroke-width="1.1" stroke-dasharray="1.6,1.6"/>
<circle cx="344.8" cy="280.9" r="1.4" fill="#bbb" stroke="#888" stroke-width="0.8"/>
<text x="354.2" y="270.7" font-size="6.6" font-weight="bold" text-anchor="start" fill="#000" textLength="19.6" lengthAdjust="spacingAndGlyphs" stroke="#000" stroke-width="0.3">Control</text>
<text x="354.2" y="283.3" font-size="6.6" font-weight="bold" text-anchor="start" fill="#000" textLength="37.7" lengthAdjust="spacingAndGlyphs" stroke="#000" stroke-width="0.3">DNMT1 siRNA</text>
<text x="270.7" y="365.1" font-size="19.5" font-weight="normal" text-anchor="start" fill="#000">F</text>
<text x="378" y="349.6" font-size="7.4" font-weight="normal" text-anchor="start" fill="#111" stroke="#111" stroke-width="0.35">γ</text>
<text x="381" y="349.4" font-size="8.8" font-weight="bold" text-anchor="start" fill="#000" textLength="56.5" lengthAdjust="spacingAndGlyphs" stroke="#000" stroke-width="0.3">-Globin mRNA</text>
<line x1="329.2" y1="421.73" x2="496.2" y2="421.73" stroke="#e0e0e0" stroke-width="1"/>
<line x1="329.2" y1="401.65" x2="496.2" y2="401.65" stroke="#e0e0e0" stroke-width="1"/>
<line x1="329.2" y1="381.57" x2="496.2" y2="381.57" stroke="#e0e0e0" stroke-width="1"/>
<rect x="329.2" y="361.5" width="167" height="80.3" fill="none" stroke="#d4d4d4" stroke-width="1"/>
<line x1="329.2" y1="441.8" x2="496.2" y2="441.8" stroke="#c4c4c4" stroke-width="1.6"/>
<text x="324.2" y="445" font-size="8.8" font-weight="bold" text-anchor="end" fill="#000" textLength="4.75" lengthAdjust="spacingAndGlyphs" stroke="#000" stroke-width="0.3">0</text>
<text x="324.2" y="424.93" font-size="8.8" font-weight="bold" text-anchor="end" fill="#000" textLength="9.5" lengthAdjust="spacingAndGlyphs" stroke="#000" stroke-width="0.3">50</text>
<text x="324.2" y="404.85" font-size="8.8" font-weight="bold" text-anchor="end" fill="#000" textLength="14.25" lengthAdjust="spacingAndGlyphs" stroke="#000" stroke-width="0.3">100</text>
<text x="324.2" y="384.77" font-size="8.8" font-weight="bold" text-anchor="end" fill="#000" textLength="14.25" lengthAdjust="spacingAndGlyphs" stroke="#000" stroke-width="0.3">150</text>
<text x="324.2" y="364.7" font-size="8.8" font-weight="bold" text-anchor="end" fill="#000" textLength="14.25" lengthAdjust="spacingAndGlyphs" stroke="#000" stroke-width="0.3">200</text>
<text x="329.2" y="460.2" font-size="8.4" font-weight="bold" text-anchor="middle" fill="#000" textLength="4" lengthAdjust="spacingAndGlyphs" stroke="#000" stroke-width="0.3">8</text>
<text x="362.6" y="460.2" font-size="8.4" font-weight="bold" text-anchor="middle" fill="#000" textLength="8" lengthAdjust="spacingAndGlyphs" stroke="#000" stroke-width="0.3">10</text>
<text x="396" y="460.2" font-size="8.4" font-weight="bold" text-anchor="middle" fill="#000" textLength="8" lengthAdjust="spacingAndGlyphs" stroke="#000" stroke-width="0.3">12</text>
<text x="429.4" y="460.2" font-size="8.4" font-weight="bold" text-anchor="middle" fill="#000" textLength="8" lengthAdjust="spacingAndGlyphs" stroke="#000" stroke-width="0.3">14</text>
<text x="462.8" y="460.2" font-size="8.4" font-weight="bold" text-anchor="middle" fill="#000" textLength="8" lengthAdjust="spacingAndGlyphs" stroke="#000" stroke-width="0.3">16</text>
<text x="496.2" y="460.2" font-size="8.4" font-weight="bold" text-anchor="middle" fill="#000" textLength="8" lengthAdjust="spacingAndGlyphs" stroke="#000" stroke-width="0.3">18</text>
<text x="386.7" y="478" font-size="8.6" font-weight="bold" text-anchor="start" fill="#000" textLength="52" lengthAdjust="spacingAndGlyphs" stroke="#000" stroke-width="0.3">Day of Culture</text>
<text x="307.1" y="402" font-size="8.4" font-weight="bold" text-anchor="middle" fill="#000" textLength="83.5" lengthAdjust="spacingAndGlyphs" transform="rotate(-90 307.1 402)" stroke="#000" stroke-width="0.3">Relative mRNA</text>
<line x1="412.7" y1="377.16" x2="412.7" y2="383.98" stroke="#000" stroke-width="1.2"/>
<line x1="410.3" y1="377.16" x2="415.1" y2="377.16" stroke="#000" stroke-width="1.2"/>
<line x1="410.3" y1="383.98" x2="415.1" y2="383.98" stroke="#000" stroke-width="1.2"/>
<line x1="412.7" y1="391.61" x2="412.7" y2="402.45" stroke="#000" stroke-width="1.2"/>
<line x1="410.3" y1="391.61" x2="415.1" y2="391.61" stroke="#000" stroke-width="1.2"/>
<line x1="410.3" y1="402.45" x2="415.1" y2="402.45" stroke="#000" stroke-width="1.2"/>
<line x1="429.4" y1="396.83" x2="429.4" y2="407.67" stroke="#000" stroke-width="1.2"/>
<line x1="427" y1="396.83" x2="431.8" y2="396.83" stroke="#000" stroke-width="1.2"/>
<line x1="427" y1="407.67" x2="431.8" y2="407.67" stroke="#000" stroke-width="1.2"/>
<line x1="446.1" y1="414.5" x2="446.1" y2="421.73" stroke="#000" stroke-width="1.2"/>
<line x1="443.7" y1="414.5" x2="448.5" y2="414.5" stroke="#000" stroke-width="1.2"/>
<line x1="443.7" y1="421.73" x2="448.5" y2="421.73" stroke="#000" stroke-width="1.2"/>
<line x1="446.1" y1="420.12" x2="446.1" y2="426.74" stroke="#000" stroke-width="1.2"/>
<line x1="443.7" y1="420.12" x2="448.5" y2="420.12" stroke="#000" stroke-width="1.2"/>
<line x1="443.7" y1="426.74" x2="448.5" y2="426.74" stroke="#000" stroke-width="1.2"/>
<line x1="379.3" y1="424.94" x2="379.3" y2="428.15" stroke="#000" stroke-width="1.2"/>
<line x1="376.9" y1="424.94" x2="381.7" y2="424.94" stroke="#000" stroke-width="1.2"/>
<line x1="376.9" y1="428.15" x2="381.7" y2="428.15" stroke="#000" stroke-width="1.2"/>
<line x1="496.2" y1="432.97" x2="496.2" y2="439.39" stroke="#000" stroke-width="1.2"/>
<line x1="493.8" y1="432.97" x2="498.6" y2="432.97" stroke="#000" stroke-width="1.2"/>
<line x1="493.8" y1="439.39" x2="498.6" y2="439.39" stroke="#000" stroke-width="1.2"/>
<path d="M329.2,438.19 C337.55,436.25 365.38,436.11 379.3,426.54 C393.22,416.97 404.35,384.92 412.7,380.77 C421.05,376.62 423.83,395.09 429.4,401.65 C434.97,408.21 434.97,414.03 446.1,420.12 C457.23,426.21 487.85,435.18 496.2,438.19" fill="none" stroke="#000" stroke-width="1.5" stroke-dasharray="2.1,2.4"/>
<path d="M329.2,437.79 C337.55,435.91 365.38,436.15 379.3,426.54 C393.22,416.94 404.35,384.05 412.7,380.17 C421.05,376.29 423.83,397.23 429.4,403.26 C434.97,409.28 434.97,411.09 446.1,416.3 C457.23,421.52 487.85,431.53 496.2,434.57" fill="none" stroke="#000" stroke-width="1.45"/>
<path d="M329.2,437.79 C337.55,435.98 365.38,433.82 379.3,426.94 C393.22,420.07 404.35,400.26 412.7,396.55 C421.05,392.84 423.83,400.24 429.4,404.66 C434.97,409.08 434.97,417.86 446.1,423.05 C457.23,428.24 487.85,433.66 496.2,435.78" fill="none" stroke="#000" stroke-width="1.45"/>
<path d="M329.2,435.39 L331.6,437.79 L329.2,440.19 L326.8,437.79Z" fill="#000" stroke="#000" stroke-width="1"/>
<path d="M379.3,424.14 L381.7,426.54 L379.3,428.94 L376.9,426.54Z" fill="#000" stroke="#000" stroke-width="1"/>
<path d="M412.7,377.77 L415.1,380.17 L412.7,382.57 L410.3,380.17Z" fill="#000" stroke="#000" stroke-width="1"/>
<path d="M429.4,400.86 L431.8,403.26 L429.4,405.66 L427,403.26Z" fill="#000" stroke="#000" stroke-width="1"/>
<path d="M446.1,413.9 L448.5,416.3 L446.1,418.7 L443.7,416.3Z" fill="#000" stroke="#000" stroke-width="1"/>
<path d="M496.2,432.17 L498.6,434.57 L496.2,436.97 L493.8,434.57Z" fill="#000" stroke="#000" stroke-width="1"/>
<path d="M329.2,435.03 L331.96,439.83 L326.44,439.83Z" fill="#000" stroke="#000" stroke-width="1"/>
<path d="M379.3,424.18 L382.06,428.98 L376.54,428.98Z" fill="#000" stroke="#000" stroke-width="1"/>
<path d="M412.7,393.79 L415.46,398.59 L409.94,398.59Z" fill="#000" stroke="#000" stroke-width="1"/>
<path d="M429.4,401.9 L432.16,406.7 L426.64,406.7Z" fill="#000" stroke="#000" stroke-width="1"/>
<path d="M446.1,420.29 L448.86,425.09 L443.34,425.09Z" fill="#000" stroke="#000" stroke-width="1"/>
<path d="M496.2,433.02 L498.96,437.82 L493.44,437.82Z" fill="#000" stroke="#000" stroke-width="1"/>
<circle cx="329.2" cy="438.19" r="2" fill="#fff" stroke="#000" stroke-width="1"/>
<circle cx="379.3" cy="426.54" r="2" fill="#fff" stroke="#000" stroke-width="1"/>
<circle cx="412.7" cy="380.77" r="2" fill="#fff" stroke="#000" stroke-width="1"/>
<circle cx="429.4" cy="401.65" r="2" fill="#fff" stroke="#000" stroke-width="1"/>
<circle cx="446.1" cy="420.12" r="2" fill="#fff" stroke="#000" stroke-width="1"/>
<circle cx="496.2" cy="438.19" r="2" fill="#fff" stroke="#000" stroke-width="1"/>
<rect x="438.4" y="363.3" width="57.6" height="33.6" fill="#fff" stroke="#cfcfcf" stroke-width="1"/>
<line x1="441.4" y1="369.8" x2="465.6" y2="369.8" stroke="#000" stroke-width="1.5"/>
<path d="M453.2,367.5 L455.5,369.8 L453.2,372.1 L450.9,369.8Z" fill="#000" stroke="#000" stroke-width="1"/>
<text x="467.6" y="372.4" font-size="7.2" font-weight="bold" text-anchor="start" fill="#000" textLength="13.8" lengthAdjust="spacingAndGlyphs" stroke="#000" stroke-width="0.3">CTRL</text>
<line x1="441.4" y1="380.6" x2="465.6" y2="380.6" stroke="#000" stroke-width="1.5"/>
<path d="M453.2,378.3 L455.5,382.3 L450.9,382.3Z" fill="#000" stroke="#000" stroke-width="1"/>
<text x="467.6" y="383.2" font-size="7.2" font-weight="bold" text-anchor="start" fill="#000" textLength="18" lengthAdjust="spacingAndGlyphs" stroke="#000" stroke-width="0.3">siCTRL</text>
<line x1="441.4" y1="391.4" x2="465.6" y2="391.4" stroke="#000" stroke-width="1.2" stroke-dasharray="2.6,2.4"/>
<circle cx="453.2" cy="391.4" r="1.8" fill="#fff" stroke="#000" stroke-width="1"/>
<text x="467.6" y="394" font-size="7.2" font-weight="bold" text-anchor="start" fill="#000" textLength="24.2" lengthAdjust="spacingAndGlyphs" stroke="#000" stroke-width="0.3">siDNMT1</text>
<text x="270.9" y="510.9" font-size="19.5" font-weight="normal" text-anchor="start" fill="#000">G</text>
<text x="389.4" y="516.4" font-size="8.4" font-weight="bold" text-anchor="start" fill="#000" textLength="67.3" lengthAdjust="spacingAndGlyphs" stroke="#000" stroke-width="0.3">Hemoglobin HPLC</text>
<defs><pattern id="hatch" patternUnits="userSpaceOnUse" x="0" y="0" width="3" height="3"><rect width="3" height="3" fill="#fff"/><path d="M-1,-1 L4,4 M-1,2 L1,4 M2,-1 L4,1" stroke="#000" stroke-width="1.1"/></pattern></defs>
<line x1="336.7" y1="593.82" x2="510.6" y2="593.82" stroke="#dedede" stroke-width="1"/>
<line x1="336.7" y1="576.44" x2="510.6" y2="576.44" stroke="#dedede" stroke-width="1"/>
<line x1="336.7" y1="559.06" x2="510.6" y2="559.06" stroke="#dedede" stroke-width="1"/>
<line x1="336.7" y1="541.68" x2="510.6" y2="541.68" stroke="#dedede" stroke-width="1"/>
<line x1="341.8" y1="524.3" x2="341.8" y2="611.2" stroke="#eeeeee" stroke-width="1"/>
<rect x="336.7" y="524.3" width="173.9" height="86.9" fill="none" stroke="#c8c8c8" stroke-width="1.1"/>
<line x1="336.7" y1="611.2" x2="510.6" y2="611.2" stroke="#b8b8b8" stroke-width="1.4"/>
<text x="332.3" y="613.8" font-size="7.4" font-weight="bold" text-anchor="end" fill="#000" textLength="11.6" lengthAdjust="spacingAndGlyphs" stroke="#000" stroke-width="0.3">0%</text>
<text x="332.3" y="596.42" font-size="7.4" font-weight="bold" text-anchor="end" fill="#000" textLength="15.4" lengthAdjust="spacingAndGlyphs" stroke="#000" stroke-width="0.3">20%</text>
<text x="332.3" y="579.04" font-size="7.4" font-weight="bold" text-anchor="end" fill="#000" textLength="15.4" lengthAdjust="spacingAndGlyphs" stroke="#000" stroke-width="0.3">40%</text>
<text x="332.3" y="561.66" font-size="7.4" font-weight="bold" text-anchor="end" fill="#000" textLength="15.4" lengthAdjust="spacingAndGlyphs" stroke="#000" stroke-width="0.3">60%</text>
<text x="332.3" y="544.28" font-size="7.4" font-weight="bold" text-anchor="end" fill="#000" textLength="15.4" lengthAdjust="spacingAndGlyphs" stroke="#000" stroke-width="0.3">80%</text>
<text x="332.3" y="526.9" font-size="7.4" font-weight="bold" text-anchor="end" fill="#000" textLength="19.6" lengthAdjust="spacingAndGlyphs" stroke="#000" stroke-width="0.3">100%</text>
<text x="309.6" y="567.7" font-size="7.2" font-weight="bold" text-anchor="middle" fill="#000" textLength="93.4" lengthAdjust="spacingAndGlyphs" transform="rotate(-90 309.6 567.7)" stroke="#000" stroke-width="0.3">Percent of Total Hb</text>
<rect x="351.1" y="529.51" width="19.1" height="81.69" fill="#fff" stroke="#000" stroke-width="0.9"/>
<rect x="370.2" y="530.38" width="19.4" height="80.82" fill="url(#hatch)" stroke="#000" stroke-width="0.9"/>
<rect x="389.6" y="530.73" width="19.4" height="80.47" fill="#000" stroke="#000" stroke-width="0.9"/>
<rect x="437.1" y="607.72" width="19.1" height="3.48" fill="#fff" stroke="#000" stroke-width="0.9"/>
<rect x="456.2" y="607.72" width="19.4" height="3.48" fill="url(#hatch)" stroke="#000" stroke-width="0.9"/>
<rect x="475.6" y="606.42" width="19.4" height="4.78" fill="#000" stroke="#000" stroke-width="0.9"/>
<text x="380.3" y="628.2" font-size="7.6" font-weight="bold" text-anchor="middle" fill="#000" textLength="14.8" lengthAdjust="spacingAndGlyphs" stroke="#000" stroke-width="0.3">HbA</text>
<text x="466.9" y="628.2" font-size="7.6" font-weight="bold" text-anchor="middle" fill="#000" textLength="14" lengthAdjust="spacingAndGlyphs" stroke="#000" stroke-width="0.3">HbF</text>
<rect x="430.4" y="543.8" width="67.2" height="33.1" fill="#fff" stroke="#e0e0e0" stroke-width="1"/>
<rect x="432" y="548.1" width="3.6" height="4.8" fill="#fff" stroke="#000" stroke-width="0.7"/>
<text x="437.6" y="553.1" font-size="7.4" font-weight="bold" text-anchor="start" fill="#000" textLength="58.5" lengthAdjust="spacingAndGlyphs" stroke="#000" stroke-width="0.3">Untreated Control</text>
<rect x="432" y="559.3" width="3.6" height="4.8" fill="url(#hatch)" stroke="#000" stroke-width="0.7"/>
<text x="437.6" y="564.3" font-size="7.4" font-weight="bold" text-anchor="start" fill="#000" textLength="45.1" lengthAdjust="spacingAndGlyphs" stroke="#000" stroke-width="0.3">Control siRNA</text>
<rect x="432" y="570.7" width="3.6" height="4.8" fill="#000" stroke="#000" stroke-width="0.7"/>
<text x="437.6" y="575.7" font-size="7.4" font-weight="bold" text-anchor="start" fill="#000" textLength="44.6" lengthAdjust="spacingAndGlyphs" stroke="#000" stroke-width="0.3">DNMT1 siRNA</text>
</svg>
</body></html>
